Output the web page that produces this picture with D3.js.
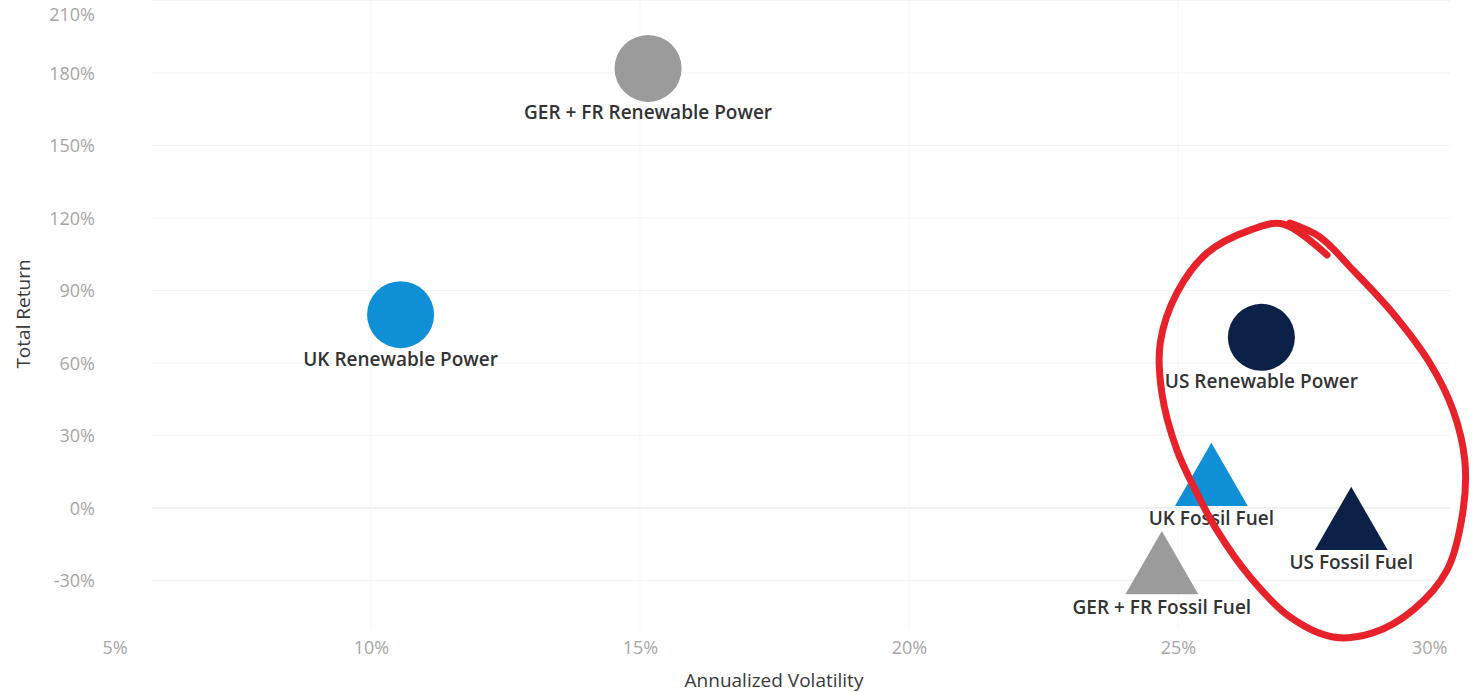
<!DOCTYPE html>
<html>
<head>
<meta charset="utf-8">
<script src="https://cdn.jsdelivr.net/npm/d3@7"></script>
<style>
  html, body { margin: 0; padding: 0; background: #fff; }
  svg { display: block; }
  text { font-family: "Open Sans", "Noto Sans", sans-serif; }
</style>
</head>
<body>
<svg id="chart" width="1474" height="694"></svg>
<script>
// Risk / return of power-sector equity baskets
const names      = ["GER + FR Renewable Power", "UK Renewable Power", "US Renewable Power",
                    "UK Fossil Fuel", "US Fossil Fuel", "GER + FR Fossil Fuel"];
const volatility = [15.15, 10.55, 26.55, 25.62, 28.22, 24.70];   // annualized volatility, %
const totalRet   = [181.9, 80.0, 70.6, 13.9, -4.3, -22.6];       // total return, %
const kinds      = ["Renewable", "Renewable", "Renewable", "Fossil", "Fossil", "Fossil"];
const regions    = ["GER + FR", "UK", "US", "UK", "US", "GER + FR"];

const xTicks = [5, 10, 15, 20, 25, 30];
const yTicks = [-30, 0, 30, 60, 90, 120, 150, 180, 210];

// hand-drawn highlight loop around the US / UK group, in data units (volatility %, return %)
const loopVol = [27.77, 26.95, 26.34, 25.54, 24.98, 24.67, 24.70, 24.98, 25.35, 25.72,
                 26.34, 27.08, 27.88, 28.62, 29.37, 30.00, 30.30, 30.33, 30.11, 29.68,
                 28.99, 28.25, 27.64, 27.08];
const loopRet = [104.7, 117.5, 115.0, 105.5, 89.0, 68.3, 47.6, 24.0, 6.2, -9.1,
                 -28.6, -45.1, -53.4, -51.7, -42.2, -25.7, -0.8, 19.9, 40.6, 60.0,
                 80.7, 98.5, 112.1, 117.9];

const regionColor = d3.scaleOrdinal()
  .domain(["GER + FR", "UK", "US"])
  .range(["#9b9b9b", "#0f8fd5", "#0b2148"]);

const svg = d3.select("#chart");

const x = d3.scaleLinear().domain([5, 30]).range([102, 1447]);
const y = d3.scaleLinear().domain([-50, 210]).range([628.8, 0.5]);

const plotLeft = 152, plotRight = 1450;

// grid
const grid = svg.append("g");
grid.selectAll("line.h").data(yTicks).join("line")
  .attr("x1", plotLeft).attr("x2", plotRight)
  .attr("y1", d => y(d)).attr("y2", d => y(d))
  .attr("stroke", d => d === 0 ? "#e8e8e8" : "#f4f4f4")
  .attr("stroke-width", 1.2);
grid.selectAll("line.v").data(xTicks.slice(1, -1)).join("line")
  .attr("x1", d => x(d)).attr("x2", d => x(d))
  .attr("y1", y(210)).attr("y2", y(-50))
  .attr("stroke", "#f7f7f7")
  .attr("stroke-width", 1);

// y axis labels
const yAxis = d3.axisLeft(y).tickValues(yTicks).tickFormat(d => d + "%").tickSize(0).tickPadding(0);
const gy = svg.append("g").attr("transform", "translate(95,0)").call(yAxis);
gy.select(".domain").remove();
gy.selectAll("text")
  .attr("fill", "#a6a6a6").attr("font-size", 18)
  .attr("dy", d => d === 210 ? "1.1em" : "0.35em");

// x axis labels
const xAxis = d3.axisBottom(x).tickValues(xTicks).tickFormat(d => d + "%").tickSize(0).tickPadding(0);
const gx = svg.append("g").attr("transform", "translate(0,648)").call(xAxis);
gx.select(".domain").remove();
gx.selectAll("text")
  .attr("fill", "#a6a6a6").attr("font-size", 18)
  .attr("text-anchor", (d, i) => i === 0 ? "start" : i === xTicks.length - 1 ? "end" : "middle")
  .attr("dy", "0.35em");

// axis titles
svg.append("text")
  .attr("x", 774).attr("y", 682)
  .attr("text-anchor", "middle").attr("dominant-baseline", "middle")
  .attr("font-size", 19).attr("font-weight", 500).attr("fill", "#3a3a3a")
  .text("Annualized Volatility");
svg.append("text")
  .attr("transform", "translate(25,314) rotate(-90)")
  .attr("text-anchor", "middle").attr("dominant-baseline", "middle")
  .attr("font-size", 19).attr("font-weight", 500).attr("fill", "#3a3a3a")
  .text("Total Return");

// marks
const data = names.map((n, i) => ({
  name: n, vol: volatility[i], ret: totalRet[i], kind: kinds[i], region: regions[i]
}));

const circleSym = d3.symbol().type(d3.symbolCircle).size(Math.PI * 33.5 * 33.5);
const triSize = 2300;
const triSym = d3.symbol().type(d3.symbolTriangle).size(triSize);
// d3's triangle is centered on its centroid; shift so its bounding box is centered on the point
const triShift = Math.sqrt(triSize / (Math.sqrt(3) * 3)) / 2;

const marks = svg.append("g");
marks.selectAll("path").data(data).join("path")
  .attr("d", d => d.kind === "Renewable" ? circleSym() : triSym())
  .attr("transform", d => `translate(${x(d.vol)},${y(d.ret) + (d.kind === "Fossil" ? triShift : 0)})`)
  .attr("fill", d => regionColor(d.region));

marks.selectAll("text").data(data).join("text")
  .attr("x", d => x(d.vol))
  .attr("y", d => y(d.ret) + 46)
  .attr("text-anchor", "middle").attr("dominant-baseline", "middle")
  .attr("font-size", 19).attr("font-weight", 600).attr("fill", "#333")
  .text(d => d.name);

// highlight loop
const loop = d3.line().curve(d3.curveCatmullRom.alpha(0.5))
  .x(i => x(loopVol[i])).y(i => y(loopRet[i]));
svg.append("path")
  .attr("d", loop(d3.range(loopVol.length)))
  .attr("fill", "none").attr("stroke", "#e8222a")
  .attr("stroke-width", 7).attr("stroke-linecap", "round").attr("stroke-linejoin", "round");
</script>
</body>
</html>
